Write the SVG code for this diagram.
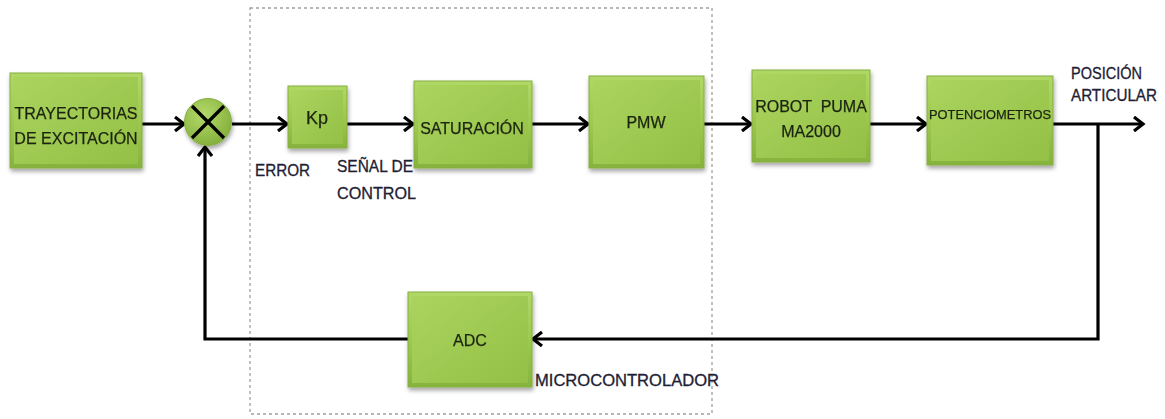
<svg xmlns="http://www.w3.org/2000/svg" width="1165" height="419" viewBox="0 0 1165 419">
<style>
.box{fill:url(#g);stroke:#86ad42;stroke-width:1}
.bev{fill:url(#g2);stroke:none}
.t{font-family:"Liberation Sans",Arial,sans-serif;fill:#1c2410;text-anchor:middle;stroke:#1c2410;stroke-width:0.25}
.l{font-family:"Liberation Sans",Arial,sans-serif;fill:#1e2033;font-size:16px;stroke:#1e2033;stroke-width:0.3}
.w{fill:none;stroke:#000;stroke-width:3.2;stroke-linejoin:miter}
</style>
<defs>
<linearGradient id="g" x1="0" y1="0" x2="0" y2="1">
<stop offset="0" stop-color="#b0d865"/>
<stop offset="0.5" stop-color="#9dc94f"/>
<stop offset="1" stop-color="#86b33c"/>
</linearGradient>
<linearGradient id="g2" x1="0" y1="0" x2="1" y2="1">
<stop offset="0" stop-color="#aad45e"/>
<stop offset="1" stop-color="#94c046"/>
</linearGradient>
<radialGradient id="gc" cx="0.4" cy="0.35" r="0.7">
<stop offset="0" stop-color="#b4da6a"/>
<stop offset="1" stop-color="#82ae3a"/>
</radialGradient>
<filter id="sh" x="-10%" y="-10%" width="130%" height="130%">
<feDropShadow dx="1" dy="3" stdDeviation="2" flood-color="#000" flood-opacity="0.35"/>
</filter>
<marker id="a" markerWidth="14" markerHeight="16" refX="11" refY="8" orient="auto" markerUnits="userSpaceOnUse">
<path d="M2,1 L11,8 L2,15" fill="none" stroke="#000" stroke-width="3.2"/>
</marker>
</defs>
<rect x="250" y="8" width="462" height="406" fill="none" stroke="#a0a0a0" stroke-width="1.3" stroke-dasharray="3,3"/>
<g id="connectors">
<line class="w" x1="142" y1="124" x2="184" y2="124" marker-end="url(#a)"/>
<line class="w" x1="232" y1="124" x2="287" y2="124" marker-end="url(#a)"/>
<line class="w" x1="347" y1="124" x2="413" y2="124" marker-end="url(#a)"/>
<line class="w" x1="532" y1="124" x2="588" y2="124" marker-end="url(#a)"/>
<line class="w" x1="704" y1="124" x2="751" y2="124" marker-end="url(#a)"/>
<line class="w" x1="870" y1="124" x2="926" y2="124" marker-end="url(#a)"/>
<line class="w" x1="1053" y1="124" x2="1143" y2="124" marker-end="url(#a)"/>
<polyline class="w" points="1098,124 1098,339 533,339" marker-end="url(#a)"/>
<polyline class="w" points="408,339 205,339 205,147" marker-end="url(#a)"/>
</g>
<g id="n-tray" filter="url(#sh)">
<rect class="box" x="10" y="73" width="132" height="95"/>
<rect class="bev" x="14" y="77" width="124" height="87"/>
<text class="t" x="76" y="119" font-size="16">TRAYECTORIAS</text>
<text class="t" x="76" y="144" font-size="16">DE EXCITACIÓN</text>
</g>
<g id="n-sum" filter="url(#sh)">
<circle cx="208" cy="122" r="23.5" fill="url(#gc)" stroke="#86ad42"/>
<path d="M192,106 L224,138 M224,106 L192,138" stroke="#000" stroke-width="3.2"/>
</g>
<g id="n-kp" filter="url(#sh)">
<rect class="box" x="288" y="86" width="59" height="62"/>
<rect class="bev" x="292" y="90" width="51" height="54"/>
<text class="t" x="317" y="124" font-size="18">Kp</text>
</g>
<g id="n-sat" filter="url(#sh)">
<rect class="box" x="414" y="81" width="118" height="87"/>
<rect class="bev" x="418" y="85" width="110" height="79"/>
<text class="t" x="472" y="134" font-size="16">SATURACIÓN</text>
</g>
<g id="n-pmw" filter="url(#sh)">
<rect class="box" x="589" y="76" width="115" height="92"/>
<rect class="bev" x="593" y="80" width="107" height="84"/>
<text class="t" x="646" y="128" font-size="16">PMW</text>
</g>
<g id="n-robot" filter="url(#sh)">
<rect class="box" x="752" y="70" width="118" height="92"/>
<rect class="bev" x="756" y="74" width="110" height="84"/>
<text class="t" x="811" y="112" font-size="16" xml:space="preserve">ROBOT  PUMA</text>
<text class="t" x="811" y="137" font-size="16">MA2000</text>
</g>
<g id="n-pot" filter="url(#sh)">
<rect class="box" x="927" y="76" width="126" height="89"/>
<rect class="bev" x="931" y="80" width="118" height="81"/>
<text class="t" x="990" y="119" font-size="12.5" textLength="122" lengthAdjust="spacingAndGlyphs">POTENCIOMETROS</text>
</g>
<g id="n-adc" filter="url(#sh)">
<rect class="box" x="408" y="292" width="124" height="95"/>
<rect class="bev" x="412" y="296" width="116" height="87"/>
<text class="t" x="470" y="346" font-size="16">ADC</text>
</g>
<g id="labels">
<text class="l" x="255" y="176" textLength="55" lengthAdjust="spacingAndGlyphs">ERROR</text>
<text class="l" x="337" y="172" textLength="76" lengthAdjust="spacingAndGlyphs">SEÑAL DE</text>
<text class="l" x="337" y="199" textLength="79" lengthAdjust="spacingAndGlyphs">CONTROL</text>
<text class="l" x="1071" y="79" textLength="71" lengthAdjust="spacingAndGlyphs">POSICIÓN</text>
<text class="l" x="1071" y="101" textLength="86" lengthAdjust="spacingAndGlyphs">ARTICULAR</text>
<text class="l" x="535" y="386" textLength="184" lengthAdjust="spacingAndGlyphs">MICROCONTROLADOR</text>
</g>
</svg>
